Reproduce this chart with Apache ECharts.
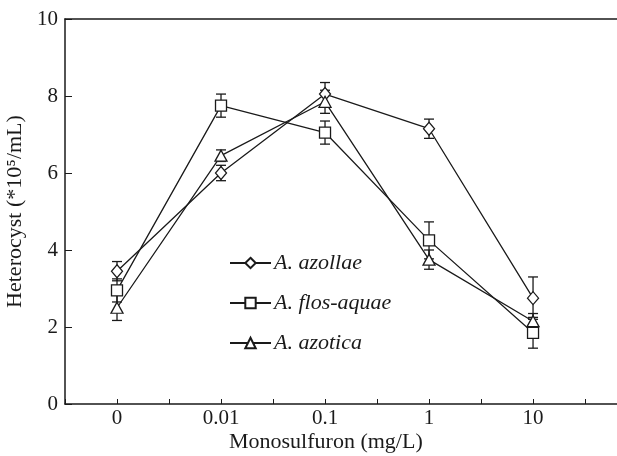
<!DOCTYPE html>
<html lang="en" style="height: 100%">
<head>
  <meta charset="utf-8" />
</head>
<body style="height: 100%; margin: 0; background: #fff">
  <div id="container" style="width: 617px; height: 456px;"></div>
  <script src="https://cdn.jsdelivr.net/npm/echarts@6/dist/echarts.min.js"></script>
  <script>
    // concentration categories (plotted at positions 0..4)
    var doses = ['0', '0.01', '0.1', '1', '10'];
    var yTicks = [0, 2, 4, 6, 8, 10];

    // heterocyst counts (*10^5/mL)
    var azollae = [3.45, 6.0, 8.05, 7.15, 2.75];
    var azollaeErr = [0.25, 0.2, 0.3, 0.25, 0.55];
    var flosAquae = [2.95, 7.75, 7.05, 4.25, 1.85];
    var flosAquaeErr = [0.3, 0.3, 0.3, 0.48, 0.4];
    var azotica = [2.5, 6.45, 7.85, 3.75, 2.15];
    var azoticaErr = [0.33, 0.15, 0.3, 0.25, 0.2];

    var INK = '#1a1a1a';
    var FONT = "'Liberation Serif', 'DejaVu Serif', serif";

    var myChart = echarts.init(document.getElementById('container'), null, { renderer: 'canvas' });

    function pts(vals) {
      return vals.map(function (v, i) { return [i, v]; });
    }
    function bars(vals, errs) {
      return vals.map(function (v, i) { return [i, v - errs[i], v + errs[i]]; });
    }

    function errorSeries(vals, errs) {
      return {
        type: 'custom',
        silent: true,
        z: 1,
        data: bars(vals, errs),
        renderItem: function (params, api) {
          var lo = api.coord([api.value(0), api.value(1)]);
          var hi = api.coord([api.value(0), api.value(2)]);
          var w = 5;
          var st = { stroke: INK, lineWidth: 1.3 };
          return {
            type: 'group',
            children: [
              { type: 'line', shape: { x1: lo[0], y1: lo[1], x2: hi[0], y2: hi[1] }, style: st },
              { type: 'line', shape: { x1: lo[0] - w, y1: lo[1], x2: lo[0] + w, y2: lo[1] }, style: st },
              { type: 'line', shape: { x1: hi[0] - w, y1: hi[1], x2: hi[0] + w, y2: hi[1] }, style: st }
            ]
          };
        }
      };
    }

    function lineSeries(name, vals, symbol, size) {
      return {
        name: name,
        type: 'line',
        z: 3,
        data: pts(vals),
        symbol: symbol,
        symbolSize: size,
        showAllSymbol: true,
        lineStyle: { color: INK, width: 1.3 },
        itemStyle: { color: '#fff', borderColor: INK, borderWidth: 1.3 },
        emphasis: { disabled: true }
      };
    }

    var option = {
      animation: false,
      backgroundColor: '#fff',
      grid: { left: 65, top: 19, right: -6, bottom: 52, outerBoundsMode: 'none', containLabel: false },
      legend: {
        orient: 'vertical',
        left: 229,
        top: 252,
        padding: 0,
        itemWidth: 41,
        itemHeight: 13,
        itemGap: 18,
        textStyle: { fontFamily: FONT, fontStyle: 'italic', fontSize: 22, color: INK, padding: [0, 0, 0, -2] },
        data: ['A. azollae', 'A. flos-aquae', 'A. azotica']
      },
      graphic: [{
        type: 'text',
        left: 229,
        top: 431,
        style: { text: 'Monosulfuron (mg/L)', font: '22px ' + FONT, fill: INK }
      }],
      xAxis: [{
        type: 'value',
        min: -0.5,
        max: 4.865,
        interval: 0.5,
        axisLine: { onZero: false, lineStyle: { color: INK, width: 1.5 } },
        axisTick: { inside: true, length: 5, lineStyle: { color: INK, width: 1 } },
        axisLabel: {
          margin: 4,
          fontFamily: FONT, fontSize: 21, color: INK,
          formatter: function (v) {
            return Number.isInteger(v) && v >= 0 && v < doses.length ? doses[v] : '';
          }
        },
        splitLine: { show: false }
      }, {
        type: 'value',
        position: 'top',
        min: -0.5,
        max: 4.865,
        axisLine: { show: true, onZero: false, lineStyle: { color: INK, width: 1.5 } },
        axisTick: { show: false },
        axisLabel: { show: false },
        splitLine: { show: false }
      }],
      yAxis: {
        type: 'value',
        min: yTicks[0],
        max: yTicks[yTicks.length - 1],
        interval: 2,
        name: 'Heterocyst (*10\u2075/mL)',
        nameLocation: 'middle',
        nameRotate: 90,
        nameGap: 28,
        nameTextStyle: { fontFamily: FONT, fontSize: 22, color: INK },
        axisLine: { show: true, onZero: false, lineStyle: { color: INK, width: 1.5 } },
        axisTick: { inside: true, length: 7, lineStyle: { color: INK, width: 1 } },
        axisLabel: { margin: 7, fontFamily: FONT, fontSize: 21, color: INK },
        splitLine: { show: false }
      },
      series: [
        errorSeries(azollae, azollaeErr),
        errorSeries(flosAquae, flosAquaeErr),
        errorSeries(azotica, azoticaErr),
        lineSeries('A. azollae', azollae, 'diamond', [11, 13]),
        lineSeries('A. flos-aquae', flosAquae, 'rect', [11, 11]),
        lineSeries('A. azotica', azotica, 'triangle', [12, 11])
      ]
    };

    myChart.setOption(option);
  </script>
</body>
</html>
